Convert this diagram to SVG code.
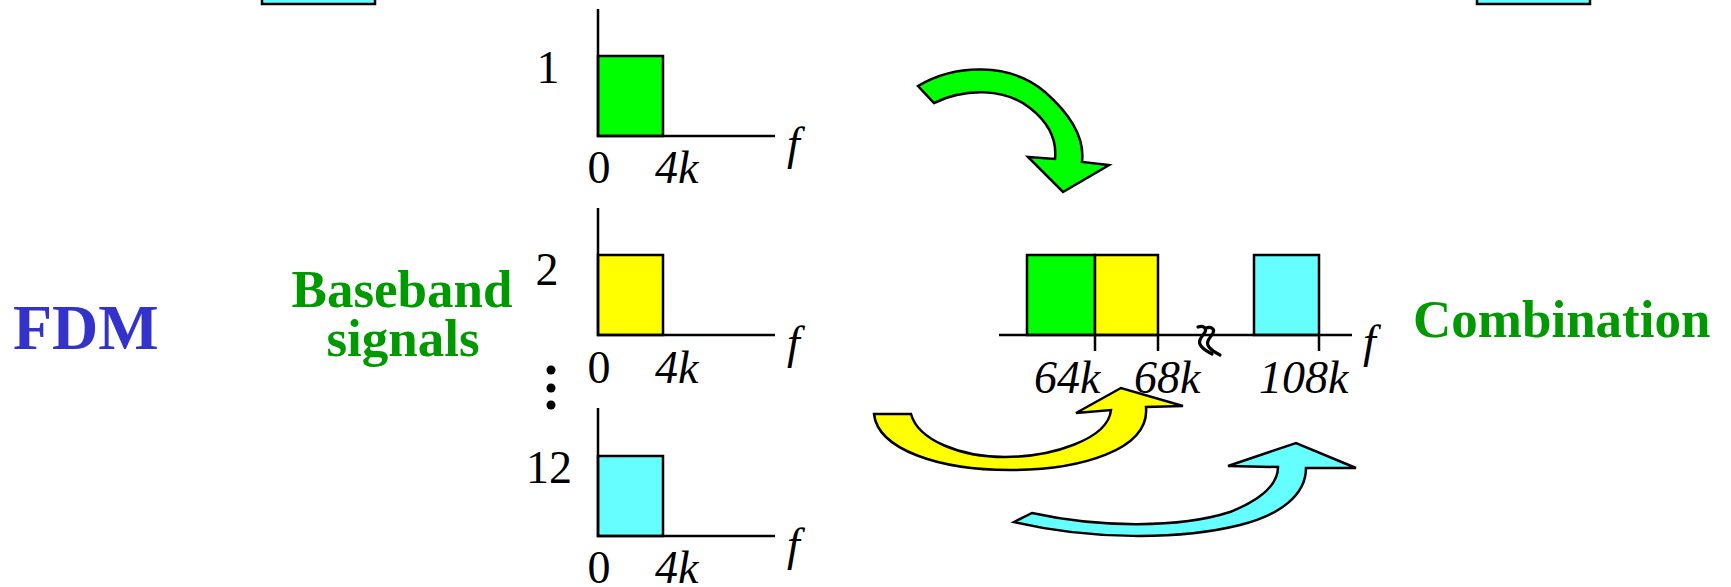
<svg xmlns="http://www.w3.org/2000/svg" width="1731" height="587" viewBox="0 0 1731 587">
<style>
.ax{stroke:#000;stroke-width:2.5;fill:none}
.bx{stroke:#000;stroke-width:2.5}
.g{fill:#00FF00}
.y{fill:#FFFF00}
.c{fill:#66FFFF}
.num{font-family:"Liberation Serif","Times New Roman",serif;font-size:46px;fill:#000}
.it{font-family:"Liberation Serif","Times New Roman",serif;font-size:46px;font-style:italic;fill:#000}
.lbl{font-family:"Liberation Serif","Times New Roman",serif;font-size:53px;font-weight:bold;fill:#009900}
.arr{stroke:#000;stroke-width:2.5;stroke-linejoin:miter}
</style>
<rect x="0" y="0" width="1731" height="587" fill="#fff"/>
<g id="top-left-box"><rect class="bx c" x="262" y="-20" width="113" height="24"/></g>
<g id="top-right-box"><rect class="bx c" x="1477" y="-20" width="113" height="24"/></g>
<g id="title"><text x="13" y="349" font-family="Liberation Serif,serif" font-size="64" font-weight="bold" fill="#3333CC">FDM</text></g>
<g id="baseband-label">
<text class="lbl" x="402" y="307" text-anchor="middle">Baseband</text>
<text class="lbl" x="403" y="356" text-anchor="middle">signals</text>
</g>
<g id="combination-label"><text class="lbl" x="1413" y="337">Combination</text></g>
<g id="signal1">
<rect class="bx g" x="598" y="56" width="65" height="80"/>
<polyline class="ax" points="598,9 598,136 775,136"/>
<text class="num" x="548" y="83" text-anchor="middle">1</text>
<text class="num" x="599" y="183" text-anchor="middle">0</text>
<text class="it" x="655" y="183">4k</text>
<text class="it" x="787" y="159">f</text>
</g>
<g id="signal2">
<rect class="bx y" x="598" y="255" width="65" height="80"/>
<polyline class="ax" points="598,208 598,335 775,335"/>
<text class="num" x="547" y="285" text-anchor="middle">2</text>
<text class="num" x="599" y="383" text-anchor="middle">0</text>
<text class="it" x="655" y="383">4k</text>
<text class="it" x="787" y="358">f</text>
</g>
<g id="ellipsis"><circle cx="551" cy="370" r="4.5"/><circle cx="551" cy="388" r="4.5"/><circle cx="551" cy="405" r="4.5"/></g>
<g id="signal12">
<rect class="bx c" x="598" y="456" width="65" height="80"/>
<polyline class="ax" points="598,408 598,536 775,536"/>
<text class="num" x="549" y="483" text-anchor="middle">12</text>
<text class="num" x="599" y="583" text-anchor="middle">0</text>
<text class="it" x="655" y="583">4k</text>
<text class="it" x="787" y="560">f</text>
</g>
<g id="combined">
<rect class="bx g" x="1027" y="255" width="68" height="80"/>
<rect class="bx y" x="1095" y="255" width="63" height="80"/>
<rect class="bx c" x="1254" y="255" width="65" height="80"/>
<line class="ax" x1="999" y1="335" x2="1352" y2="335"/>
<line class="ax" x1="1095" y1="335" x2="1095" y2="351"/>
<line class="ax" x1="1158" y1="335" x2="1158" y2="351"/>
<line class="ax" x1="1319" y1="335" x2="1319" y2="351"/>
<path d="M1198,327 C1203,325 1207,328 1205,332 C1202,337 1197,341 1201,346 C1204,350 1208,352 1212,354 M1206,328 C1211,326 1215,329 1213,333 C1210,338 1205,342 1209,347 C1212,351 1216,353 1220,355" fill="none" stroke="#000" stroke-width="3.2" stroke-linecap="round"/>
<text class="it" x="1034" y="393">64k</text>
<text class="it" x="1134" y="393">68k</text>
<text class="it" x="1259" y="393">108k</text>
<text class="it" x="1363" y="357">f</text>
</g>
<g id="connectors">
<path class="arr g" d="M918,86 C955,64 1010,62 1045,92 C1070,114 1085,138 1082,162 L1109,165 L1063,192 L1028,157 L1055,159 C1057,140 1048,122 1030,108 C1005,88 965,88 934,103 Z"/>
<path class="arr y" d="M874,414 L911,414 C918,440 960,457 1005,457 C1050,457 1108,440 1111,410 L1076,413 L1121,388 L1183,406 L1146,407 C1150,450 1080,470 1010,470 C940,470 878,450 874,414 Z"/>
<path class="arr c" d="M1014,522 L1032,513 C1100,528 1180,528 1230,512 C1260,500 1278,485 1278,467 L1228,466 L1296,443 L1356,468 L1306,468 C1306,495 1280,515 1240,525 C1180,540 1090,540 1014,522 Z"/>
</g>
</svg>
